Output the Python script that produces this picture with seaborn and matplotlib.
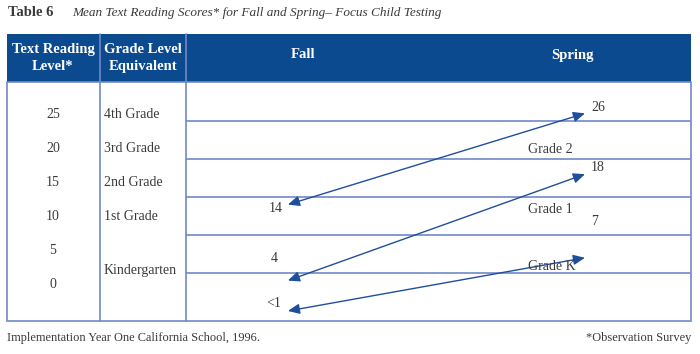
import seaborn as sns
import matplotlib.pyplot as plt
from matplotlib.patches import Rectangle

# data
levels = [25, 20, 15, 10, 5, 0]
grade_names = ["4th Grade", "3rd Grade", "2nd Grade", "1st Grade", "Kindergarten"]
grade_pos = [25, 20, 15, 10, 2]
fall_scores = [14, 4, 0]
fall_labels = ["14", "4", "<1"]
spring_scores = [26, 18, 7]
spring_labels = ["26", "18", "7"]
spring_grades = ["Grade 2", "Grade 1", "Grade K"]

# label offsets (pixels) relative to the arrow tips
fall_off = [(-5, -4), (-10, 22), (-7, 7)]
spring_off = [(6, 6), (6, 7), (6, 36)]
grade_off = [(-57, -36), (-57, -35), (-57, -9)]

sns.set_style("white")
plt.rcParams["font.family"] = ["Liberation Serif", "DejaVu Serif"]

BLUE = "#0b4a8e"
LINE = "#7189c6"
ARROW = "#1f4f9c"
TXT = "#3a3a3a"

W, H = 700, 354
fig = plt.figure(figsize=(7, 3.54), dpi=100)


def box(x0, y0, x1, y1):
    return [x0 / W, 1 - y1 / H, (x1 - x0) / W, (y1 - y0) / H]


# background axes in pixel coordinates for the table frame
bg = fig.add_axes([0, 0, 1, 1])
bg.set_xlim(0, W)
bg.set_ylim(H, 0)
bg.axis("off")
bg.add_patch(Rectangle((7, 34), 684, 48, facecolor=BLUE, edgecolor=BLUE, lw=0))
bg.add_patch(Rectangle((7, 82), 684, 239, facecolor="none", edgecolor=LINE, lw=1.2))
for xv in [100, 185.5]:
    bg.plot([xv, xv], [34, 321], color=LINE, lw=1.2)

bg.text(8, 13, "Table 6", fontsize=10.5, fontweight="bold", color=TXT, va="center")
bg.text(72, 13, "Mean Text Reading Scores* for Fall and Spring\u2013 Focus Child Testing",
        fontsize=9.5, style="italic", color=TXT, va="center")

hdr = dict(color="white", fontweight="bold", fontsize=10.5, ha="center", va="center",
           linespacing=1.4)
bg.text(53, 58, "Text Reading\nLevel*", **hdr)
bg.text(143, 58, "Grade Level\nEquivalent", **hdr)
bg.text(303, 55, "Fall", **hdr)
bg.text(572, 55, "Spring", **hdr)

bg.text(7, 338, "Implementation Year One California School, 1996.", fontsize=8.9,
        color=TXT, va="center")
bg.text(691, 338, "*Observation Survey", fontsize=8.9, color=TXT, va="center", ha="right")

# left columns: reading levels and grade equivalents
left = fig.add_axes(box(7, 82, 185, 321))
left.set_xlim(0, 1)
left.set_ylim(-5.47, 29.88)
left.axis("off")
for lv in levels:
    left.text(0.258, lv, str(lv), ha="center", va="center", fontsize=10, color=TXT)
for name, gp in zip(grade_names, grade_pos):
    left.text(0.545, gp, name, ha="left", va="center", fontsize=10, color=TXT)

# plot area: fall -> spring arrows
ax = fig.add_axes(box(186, 82, 691, 321))
ax.set_xlim(-0.343, 1.357)
ax.set_ylim(-1.32, 30.13)
ax.axis("off")
for lv in levels[:-1]:
    ax.axhline(lv, color=LINE, lw=1.2)

for i in range(len(fall_scores)):
    ax.annotate("", xy=(0, fall_scores[i]), xytext=(1, spring_scores[i]),
                arrowprops=dict(arrowstyle="<|-|>,head_length=0.5,head_width=0.22",
                                color=ARROW, lw=1.0,
                                mutation_scale=14, shrinkA=0, shrinkB=0))
    ax.annotate(fall_labels[i], xy=(0, fall_scores[i]), xytext=fall_off[i],
                textcoords="offset pixels", ha="right", va="center",
                fontsize=10, color=TXT)
    ax.annotate(spring_labels[i], xy=(1, spring_scores[i]), xytext=spring_off[i],
                textcoords="offset pixels", ha="left", va="center",
                fontsize=10, color=TXT)
    ax.annotate(spring_grades[i], xy=(1, spring_scores[i]), xytext=grade_off[i],
                textcoords="offset pixels", ha="left", va="center",
                fontsize=10, color=TXT)

fig.savefig("out.png", dpi=100)
